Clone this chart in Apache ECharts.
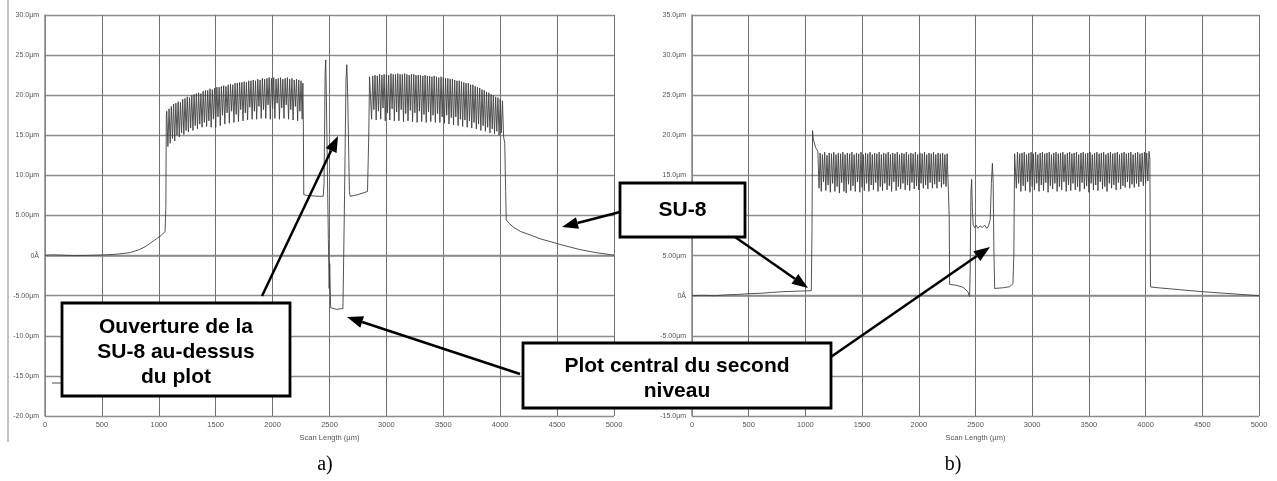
<!DOCTYPE html>
<html><head><meta charset="utf-8">
<script src="https://cdn.jsdelivr.net/npm/echarts@6/dist/echarts.min.js"></script>
<style>html,body{margin:0;padding:0;background:#fff}#c{width:1277px;height:481px}</style>
</head><body><div id="c"></div>
<script>
// ---------- tick labels ----------
const xTicks = [0,500,1000,1500,2000,2500,3000,3500,4000,4500,5000];
const xTickLabels = ['0','500','1000','1500','2000','2500','3000','3500','4000','4500','5000'];
const yTickValuesA = [-20,-15,-10,-5,0,5,10,15,20,25,30];
const yTickLabelsA = ['-20.0µm','-15.0µm','-10.0µm','-5.00µm','0Å','5.00µm','10.0µm','15.0µm','20.0µm','25.0µm','30.0µm'];
const yTickValuesB = [-15,-10,-5,0,5,10,15,20,25,30,35];
const yTickLabelsB = ['-15.0µm','-10.0µm','-5.00µm','0Å','5.00µm','10.0µm','15.0µm','20.0µm','25.0µm','30.0µm','35.0µm'];
const xAxisTitle = 'Scan Length (µm)';

// ---------- profile a) : [scan µm, height µm] ----------
const profileA_lead = [[0,0.05],[40,0.08],[52,0.3],[64,0.1],[150,0.05],[250,0.0],[350,0.02],[450,0.05],[550,0.1],[650,0.2],[750,0.38],[820,0.7],[880,1.1],[930,1.6],[980,2.1],[1020,2.5],[1055,3.0],[1062,6],[1066,17.5]];
const profileA_band1 = [[1070,18.0],[1080,13.6],[1090,18.3],[1100,14.0],[1110,18.6],[1120,14.6],[1130,18.9],[1140,14.3],[1150,19.0],[1160,15.0],[1170,19.2],[1180,14.8],[1190,19.1],[1200,15.3],[1210,19.5],[1220,15.1],[1230,19.6],[1240,15.6],[1250,19.8],[1260,15.4],[1270,19.7],[1280,15.9],[1290,20.0],[1300,15.6],[1310,20.1],[1320,16.2],[1330,20.2],[1340,15.8],[1350,20.3],[1360,16.4],[1370,20.2],[1380,16.0],[1390,20.5],[1400,16.6],[1410,20.6],[1420,16.1],[1430,20.6],[1440,16.8],[1450,20.8],[1460,16.0],[1470,20.7],[1480,17.0],[1490,20.9],[1500,16.0],[1510,21.0],[1520,17.3],[1530,21.0],[1540,16.2],[1550,21.1],[1560,17.5],[1570,21.2],[1580,16.4],[1590,21.1],[1600,17.8],[1610,21.3],[1620,16.5],[1630,21.4],[1640,18.0],[1650,21.3],[1660,16.6],[1670,21.5],[1680,17.6],[1690,21.5],[1700,16.7],[1710,21.6],[1720,18.2],[1730,21.6],[1740,16.8],[1750,21.7],[1760,17.8],[1770,21.6],[1780,16.9],[1790,21.8],[1800,18.5],[1810,21.8],[1820,17.0],[1830,21.9],[1840,18.0],[1850,21.8],[1860,17.0],[1870,22.0],[1880,18.6],[1890,21.9],[1900,17.1],[1910,22.1],[1920,18.2],[1930,22.0],[1940,17.1],[1950,22.1],[1960,18.8],[1970,22.2],[1980,17.0],[1990,22.1],[2000,18.3],[2010,22.2],[2020,17.1],[2030,22.0],[2040,19.0],[2050,22.1],[2060,17.0],[2070,22.2],[2080,18.4],[2090,22.0],[2100,17.1],[2110,22.1],[2120,18.8],[2130,22.2],[2140,17.0],[2150,22.0],[2160,18.2],[2170,22.1],[2180,16.9],[2190,21.9],[2200,18.6],[2210,22.0],[2220,16.8],[2230,21.9],[2240,18.0],[2250,21.8],[2260,17.0],[2266,21.5]];
const profileA_center = [[2270,17],[2274,7.6],[2300,7.5],[2400,7.4],[2445,7.4],[2452,9],[2462,23],[2467,24.4],[2472,20],[2490,2],[2497,-4.1],[2502,-1],[2510,-6.5],[2515,-6.7],[2560,-6.7],[2618,-6.6],[2625,-6.6],[2630,5],[2645,22],[2652,23.8],[2660,20],[2675,8],[2682,7.4],[2750,7.6],[2834,8.0],[2845,15],[2852,22.3]];
const profileA_band2 = [[2860,22.3],[2870,17.0],[2880,22.4],[2890,18.2],[2900,22.5],[2910,16.9],[2920,22.4],[2930,18.0],[2940,22.6],[2950,17.0],[2960,22.5],[2970,18.4],[2980,22.6],[2990,16.8],[3000,22.6],[3010,17.8],[3020,22.5],[3030,16.9],[3040,22.7],[3050,18.3],[3060,22.6],[3070,16.8],[3080,22.6],[3090,17.9],[3100,22.7],[3110,16.8],[3120,22.6],[3130,18.2],[3140,22.6],[3150,16.7],[3160,22.7],[3170,17.7],[3180,22.6],[3190,16.8],[3200,22.5],[3210,18.1],[3220,22.6],[3230,16.7],[3240,22.6],[3250,17.8],[3260,22.5],[3270,16.6],[3280,22.5],[3290,18.0],[3300,22.5],[3310,16.7],[3320,22.4],[3330,17.6],[3340,22.5],[3350,16.6],[3360,22.4],[3370,17.9],[3380,22.4],[3390,16.7],[3400,22.3],[3410,17.5],[3420,22.4],[3430,16.6],[3440,22.3],[3450,17.7],[3460,22.2],[3470,16.6],[3480,22.3],[3490,17.3],[3500,22.2],[3510,16.5],[3520,22.1],[3530,17.5],[3540,22.1],[3550,16.4],[3560,22.0],[3570,17.2],[3580,22.0],[3590,16.3],[3600,21.9],[3610,17.3],[3620,21.8],[3630,16.2],[3640,21.8],[3650,17.0],[3660,21.7],[3670,16.1],[3680,21.6],[3690,16.9],[3700,21.5],[3710,16.0],[3720,21.5],[3730,16.8],[3740,21.3],[3750,15.9],[3760,21.3],[3770,16.6],[3780,21.1],[3790,15.8],[3800,21.0],[3810,16.4],[3820,20.9],[3830,15.6],[3840,20.7],[3850,16.2],[3860,20.6],[3870,15.5],[3880,20.4],[3890,16.0],[3900,20.3],[3910,15.3],[3920,20.1],[3930,15.8],[3940,20.0],[3950,15.2],[3960,19.8],[3970,15.5],[3980,19.7],[3990,15.0],[4000,19.5],[4010,15.3],[4020,19.3],[4030,14.8]];
const profileA_tail = [[4040,14],[4048,8],[4053,4.45],[4080,4.0],[4120,3.5],[4180,3.0],[4260,2.6],[4350,2.1],[4450,1.7],[4550,1.3],[4700,0.75],[4850,0.35],[5000,0.05]];

// ---------- profile b) ----------
const profileB_lead = [[0,0.0],[100,0.05],[200,0.0],[300,0.1],[400,0.15],[500,0.25],[600,0.3],[700,0.4],[800,0.5],[900,0.55],[1000,0.6],[1052,0.62],[1058,8],[1063,20.6],[1070,19.5],[1090,18.5],[1110,18.0]];
const profileB_band1 = [[1120,13.4],[1130,17.8],[1140,13.0],[1150,17.6],[1160,14.2],[1170,17.9],[1180,13.1],[1190,17.5],[1200,13.8],[1210,17.8],[1220,12.9],[1230,17.7],[1240,14.0],[1250,17.9],[1260,13.0],[1270,17.6],[1280,13.6],[1290,17.8],[1300,12.8],[1310,17.7],[1320,14.1],[1330,17.9],[1340,13.0],[1350,17.6],[1360,12.8],[1370,17.8],[1380,13.9],[1390,17.7],[1400,13.1],[1410,17.9],[1420,13.7],[1430,17.6],[1440,13.0],[1450,17.8],[1460,14.2],[1470,17.7],[1480,12.9],[1490,17.9],[1500,13.5],[1510,17.6],[1520,13.1],[1530,17.8],[1540,14.0],[1550,17.7],[1560,13.0],[1570,17.9],[1580,13.8],[1590,17.6],[1600,13.2],[1610,17.8],[1620,14.1],[1630,17.7],[1640,13.0],[1650,17.9],[1660,13.6],[1670,17.6],[1680,13.1],[1690,17.8],[1700,14.0],[1710,17.7],[1720,13.2],[1730,17.9],[1740,13.7],[1750,17.6],[1760,13.0],[1770,17.8],[1780,14.2],[1790,17.7],[1800,13.1],[1810,17.9],[1820,13.6],[1830,17.6],[1840,13.3],[1850,17.8],[1860,14.0],[1870,17.7],[1880,13.2],[1890,17.9],[1900,13.8],[1910,17.6],[1920,13.1],[1930,17.8],[1940,14.1],[1950,17.7],[1960,13.3],[1970,17.9],[1980,13.7],[1990,17.6],[2000,13.2],[2010,17.8],[2020,14.0],[2030,17.7],[2040,13.4],[2050,17.9],[2060,13.8],[2070,17.6],[2080,13.3],[2090,17.8],[2100,14.1],[2110,17.7],[2120,13.4],[2130,17.9],[2140,13.9],[2150,17.6],[2160,13.4],[2170,17.8],[2180,14.2],[2190,17.7],[2200,13.5],[2210,17.8],[2220,13.9],[2230,17.6],[2240,13.6],[2250,17.7]];
const profileB_center = [[2262,17.5],[2268,10],[2272,1.4],[2330,1.3],[2390,1.05],[2433,0.5],[2448,-0.1],[2453,3],[2460,13],[2466,14.5],[2472,11],[2480,8.8],[2492,8.5],[2505,8.8],[2520,8.4],[2540,8.7],[2560,8.5],[2580,8.8],[2600,8.4],[2615,8.7],[2630,9.5],[2640,14],[2649,16.5],[2656,14],[2662,6],[2669,0.9],[2750,1.0],[2801,1.12],[2830,1.5],[2838,5],[2845,17.7]];
const profileB_band2 = [[2860,13.4],[2870,17.9],[2880,14.0],[2890,17.7],[2900,13.0],[2910,17.8],[2920,13.7],[2930,17.9],[2940,13.1],[2950,17.6],[2960,14.2],[2970,17.8],[2980,12.9],[2990,17.9],[3000,13.6],[3010,17.7],[3020,13.2],[3030,17.9],[3040,14.0],[3050,17.6],[3060,13.0],[3070,17.8],[3080,13.8],[3090,17.9],[3100,13.1],[3110,17.7],[3120,14.1],[3130,17.8],[3140,12.9],[3150,17.9],[3160,13.7],[3170,17.6],[3180,13.3],[3190,17.8],[3200,14.0],[3210,17.9],[3220,13.0],[3230,17.7],[3240,13.6],[3250,17.8],[3260,13.2],[3270,17.9],[3280,14.2],[3290,17.6],[3300,13.0],[3310,17.8],[3320,13.8],[3330,17.9],[3340,13.1],[3350,17.7],[3360,14.0],[3370,17.8],[3380,13.2],[3390,17.9],[3400,13.6],[3410,17.6],[3420,13.0],[3430,17.8],[3440,14.1],[3450,17.9],[3460,13.3],[3470,17.7],[3480,13.7],[3490,17.8],[3500,12.9],[3510,17.9],[3520,14.0],[3530,17.6],[3540,13.2],[3550,17.8],[3560,13.8],[3570,17.9],[3580,13.1],[3590,17.7],[3600,14.2],[3610,17.8],[3620,13.3],[3630,17.9],[3640,13.6],[3650,17.6],[3660,13.0],[3670,17.8],[3680,14.0],[3690,17.9],[3700,13.4],[3710,17.7],[3720,13.8],[3730,17.8],[3740,13.2],[3750,17.9],[3760,14.1],[3770,17.6],[3780,13.3],[3790,17.8],[3800,13.7],[3810,17.9],[3820,13.5],[3830,17.7],[3840,14.2],[3850,17.8],[3860,13.4],[3870,17.9],[3880,13.9],[3890,17.6],[3900,13.5],[3910,17.8],[3920,14.0],[3930,17.9],[3940,13.6],[3950,17.7],[3960,14.2],[3970,17.8],[3980,13.7],[3990,17.9],[4000,14.0],[4010,17.8],[4020,14.3],[4030,18.0]];
const profileB_tail = [[4038,17],[4043,1.1],[4100,1.0],[4300,0.75],[4500,0.5],[4700,0.3],[4900,0.1],[5000,0.0]];

const profileA = [].concat(profileA_lead, profileA_band1, profileA_center, profileA_band2, profileA_tail);
const profileB = [].concat(profileB_lead, profileB_band1, profileB_center, profileB_band2, profileB_tail);

// ---------- annotations ----------
const boxTexts = {
  ouverture: 'Ouverture de la\nSU-8 au-dessus\ndu plot',
  plot: 'Plot central du second\nniveau',
  su8: 'SU-8'
};
const captions = ['a)', 'b)'];

const chart = echarts.init(document.getElementById('c'), null, {renderer:'canvas'});
const FONT = '"Liberation Sans", Arial, sans-serif';
const gridCol = '#707070';

function xAxisCfg(i){
  return {
    gridIndex:i, type:'value', min:0, max:5000, interval:500,
    name: xAxisTitle, nameLocation:'middle', nameGap:14,
    nameTextStyle:{fontSize:7.5, color:'#555', fontFamily:FONT},
    axisLine:{show:true, lineStyle:{color:'#8a8a8a', width:1.5}},
    axisTick:{show:false},
    axisLabel:{fontSize:7.5, color:'#555', margin:5, fontFamily:FONT,
      formatter:function(v){ const k = xTicks.indexOf(v); return k>=0 ? xTickLabels[k] : ''; }},
    splitLine:{show:true, lineStyle:{color:gridCol, width:1}}
  };
}
function yAxisCfg(i, min, max, vals, labs){
  return {
    gridIndex:i, type:'value', min:min, max:max, interval:5,
    axisLine:{show:true, onZero:false, lineStyle:{color:'#8a8a8a', width:1.5}},
    axisTick:{show:false},
    axisLabel:{fontSize:7, color:'#555', margin:6, fontFamily:FONT,
      formatter:function(v){ const k = vals.indexOf(v); return k>=0 ? labs[k] : ''; }},
    splitLine:{show:true, lineStyle:{color:'#8c8c8c', width:1.3}}
  };
}

function arrow(x1,y1,x2,y2){
  const a = Math.atan2(y2-y1, x2-x1), L=16, W=6;
  const bx = x2 - L*Math.cos(a), by = y2 - L*Math.sin(a);
  return [
    {type:'line', shape:{x1:x1,y1:y1,x2:bx,y2:by}, style:{stroke:'#000', lineWidth:2.5}, z:100},
    {type:'polygon', shape:{points:[[x2,y2],[bx - W*Math.sin(a), by + W*Math.cos(a)],[bx + W*Math.sin(a), by - W*Math.cos(a)]]}, style:{fill:'#000'}, z:100}
  ];
}
function box(x,y,w,h,text,size,lh,dy){
  return [
    {type:'rect', shape:{x:x,y:y,width:w,height:h}, style:{fill:'#fff', stroke:'#000', lineWidth:2.8}, z:101},
    {type:'text', x:x+w/2, y:y+h/2+(dy||0), style:{text:text, fill:'#000', font:'bold '+size+'px '+FONT, align:'center', verticalAlign:'middle', lineHeight:lh}, z:102}
  ];
}

const graphics = [].concat(
  [{type:'line', shape:{x1:8,y1:0,x2:8,y2:442}, style:{stroke:'#888', lineWidth:1}}],
  [{type:'line', shape:{x1:52,y1:383,x2:62,y2:383}, style:{stroke:'#888', lineWidth:1.5}}],
  arrow(262,296,338,136),
  arrow(520,374,347,317),
  arrow(812,370,990,247),
  arrow(620,212,562,227),
  arrow(735,237,808,288),
  box(62,303,228,93,boxTexts.ouverture,21,25,3),
  box(523,343,308,65,boxTexts.plot,21,25,3),
  box(620,183,125,54,boxTexts.su8,21,24,0),
  [{type:'text', x:325, y:465, style:{text:captions[0], font:'20px "Liberation Serif", "Times New Roman", serif', fill:'#000', align:'center', verticalAlign:'middle'}},
   {type:'text', x:953, y:465, style:{text:captions[1], font:'20px "Liberation Serif", "Times New Roman", serif', fill:'#000', align:'center', verticalAlign:'middle'}}]
);

chart.setOption({
  animation:false,
  backgroundColor:'#fff',
  grid:[
    {left:45, width:569, top:15, height:401},
    {left:692, width:567, top:15, height:401}
  ],
  xAxis:[xAxisCfg(0), xAxisCfg(1)],
  yAxis:[yAxisCfg(0,-20,30,yTickValuesA,yTickLabelsA), yAxisCfg(1,-15,35,yTickValuesB,yTickLabelsB)],
  series:[
    {type:'line', xAxisIndex:0, yAxisIndex:0, data:profileA, showSymbol:false, symbol:'none', sampling:null,
     lineStyle:{color:'#404040', width:0.9}, z:5},
    {type:'line', xAxisIndex:1, yAxisIndex:1, data:profileB, showSymbol:false, symbol:'none', sampling:null,
     lineStyle:{color:'#404040', width:0.9}, z:5}
  ],
  graphic:graphics
});
</script></body></html>
